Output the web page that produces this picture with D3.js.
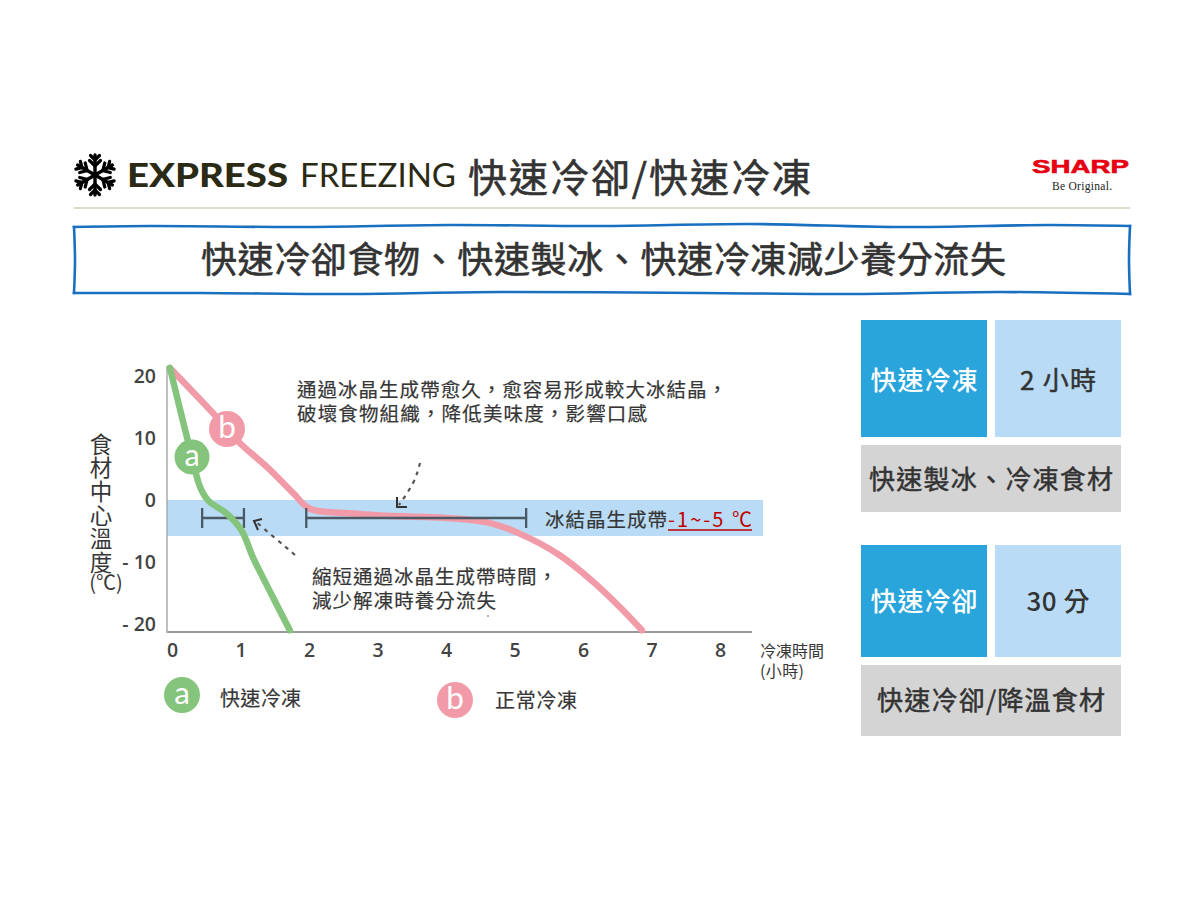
<!DOCTYPE html>
<html><head><meta charset="utf-8">
<script src="https://cdn.jsdelivr.net/npm/d3@7/dist/d3.min.js"></script>
<style>html,body{margin:0;padding:0;background:#fff}svg{display:block}text{font-family:"Noto Sans CJK TC","Noto Sans",sans-serif}</style>
</head><body><svg id="c" width="1200" height="900"></svg>
<script>
const xTicks=[0,1,2,3,4,5,6,7,8];
const yTicks=[20,10,0,-10,-20];
const fastTime=[-0.03,0.12,0.29,0.41,0.53,0.80,1.02,1.18,1.47,1.72];
const fastTemp=[21.3,14.5,7,2.1,-0.1,-2.2,-5.0,-9.2,-15.6,-21];
const normalTime=[-0.03,0.60,0.99,1.39,1.77,2.01,2.55,3.04,4.01,4.60,5.05,5.66,6.15,6.54,6.86];
const normalTemp=[21.3,14,9.2,5.3,1.1,-1.4,-2.1,-2.5,-2.9,-3.6,-5.3,-8.9,-13.2,-17.3,-21];
const freezeBand=[0,-5.8];
const fastRange=[0.44,1.05];
const normalRange=[1.96,5.17];

const svg=d3.select("#c");
const x=d3.scaleLinear().domain([0,8]).range([172,720]);
const y=d3.scaleLinear().domain([-20,20]).range([624,376]);
const dark="#363636";
function T(s,px,py,size,o={}){
  const t=svg.append("text").attr("x",px).attr("y",py).attr("font-size",size).attr("fill",o.fill||dark).text(s);
  if(o.weight)t.attr("font-weight",o.weight);
  if(o.anchor)t.attr("text-anchor",o.anchor);
  if(o.family)t.style("font-family",o.family);
  if(o.len)t.attr("textLength",o.len).attr("lengthAdjust",o.adj||"spacing");
  if(o.thick)t.attr("stroke",o.fill||dark).attr("stroke-width",o.thick);
  return t;
}
// header
const flake=svg.append("g").attr("transform","translate(95,175)");
d3.range(6).forEach(i=>{
  const a=flake.append("g").attr("transform",`rotate(${i*60})`).attr("stroke","#000").attr("fill","none").attr("stroke-linecap","round");
  a.append("line").attr("y1",0).attr("y2",-20).attr("stroke-width",3.4);
  [[-9,5.5],[-15,4.5]].forEach(([b,l])=>{
    a.append("path").attr("d",`M${-l},${b-l} L0,${b} L${l},${b-l}`).attr("stroke-width",3.2);
  });
});
T("EXPRESS",127,187,33,{weight:900,family:"Lato",fill:"#2b2a14",len:161,adj:"spacingAndGlyphs"});
T("FREEZING",300,187,33,{family:"Lato",fill:"#2b2a14",len:156,adj:"spacingAndGlyphs"});
T("快速冷卻/快速冷凍",468,192,39,{fill:"#333",len:343,thick:0.6});
T("SHARP",1032,173,19,{weight:700,family:"Liberation Sans",fill:"#e60012",len:97,adj:"spacingAndGlyphs",thick:0.6});
T("Be Original.",1052,190,11.5,{family:"Liberation Serif",fill:"#222",len:60});
svg.append("line").attr("x1",74).attr("x2",1130).attr("y1",208).attr("y2",208).attr("stroke","#dddbcc").attr("stroke-width",2);

// banner frame
const frameTop=[[74,227],[150,226],[300,227],[450,225],[600,226],[750,224],[900,227],[1050,225],[1130,226]];
const frameRight=[[1130,226],[1129,260],[1130,294]];
const frameBottom=[[1130,294],[1000,292],[850,294],[700,293],[500,292],[350,294],[200,293],[74,293]];
const frameLeft=[[74,293],[75,260],[74,227]];
const frameLine=d3.line().curve(d3.curveCatmullRom);
[frameTop,frameRight,frameBottom,frameLeft].forEach(side=>{
  svg.append("path").attr("d",frameLine(side)).attr("fill","none").attr("stroke","#1a70c0").attr("stroke-width",2.6).attr("stroke-linecap","square");
});
T("快速冷卻食物、快速製冰、快速冷凍減少養分流失",201,273,36,{fill:"#333",len:805,thick:0.6});

// band
svg.append("rect").attr("x",167).attr("width",596).attr("y",y(freezeBand[0])).attr("height",y(freezeBand[1])-y(freezeBand[0])).attr("fill","#b9dbf5");

// axes
const ax=svg.append("g").attr("transform","translate(0,632)").call(d3.axisBottom(x).tickValues(xTicks).tickSize(0).tickPadding(11));
const ay=svg.append("g").attr("transform","translate(156,0)").call(d3.axisLeft(y).tickValues(yTicks).tickSize(0).tickPadding(0).tickFormat(d=>d<0?"- "+(-d):d));
[ax,ay].forEach(g=>{g.select(".domain").remove();g.selectAll("text").attr("font-size",19.5).attr("fill","#444").style("font-family","Open Sans").attr("font-weight",600);});
svg.append("line").attr("x1",167).attr("x2",752).attr("y1",632).attr("y2",632).attr("stroke","#9a9a9a").attr("stroke-width",2);
svg.append("line").attr("x1",167).attr("x2",167).attr("y1",366).attr("y2",633).attr("stroke","#aaa").attr("stroke-width",1.5);

// curves
const line=d3.line().x(d=>x(d[0])).y(d=>y(d[1])).curve(d3.curveCatmullRom.alpha(0.5));
const pink="#f29ba8",green="#85c47c";
svg.append("path").attr("d",line(d3.zip(normalTime,normalTemp))).attr("fill","none").attr("stroke",pink).attr("stroke-width",6.5).attr("stroke-linecap","round");
// range bars
[normalRange,fastRange].forEach(r=>{
  const py=y(-2.9);
  const g=svg.append("g").attr("stroke","#4a5964").attr("stroke-width",2.3).attr("fill","none");
  g.append("line").attr("x1",x(r[0])).attr("x2",x(r[1])).attr("y1",py).attr("y2",py);
  r.forEach(v=>g.append("line").attr("x1",x(v)).attr("x2",x(v)).attr("y1",py-10).attr("y2",py+10));
});
svg.append("path").attr("d",line(d3.zip(fastTime,fastTemp))).attr("fill","none").attr("stroke",green).attr("stroke-width",6.5).attr("stroke-linecap","round");

// badges
function badge(cx,cy,r,c,l){
  svg.append("circle").attr("cx",cx).attr("cy",cy).attr("r",r).attr("fill",c);
  T(l,cx,cy+r*0.5,r*1.75,{fill:"#fff",anchor:"middle",family:"Lato"});
}
badge(192,457,17.5,green,"a");
badge(227,429,18,pink,"b");
badge(182,695,18,green,"a");
badge(455,700,18,pink,"b");

// axis titles
svg.append("text").attr("x",101).attr("y",433).attr("font-size",22.5).attr("fill",dark)
  .style("writing-mode","vertical-rl").style("text-orientation","upright").style("letter-spacing","1.1px").text("食材中心溫度");
T("(℃)",106,590,20,{anchor:"middle"});
T("冷凍時間",760,657,16,{len:64});
T("(小時)",760,677,16,{len:44});

// annotations
T("通過冰晶生成帶愈久，愈容易形成較大冰結晶，",297,397,19.5,{len:430,thick:0.2});
T("破壞食物組織，降低美味度，影響口感",297,421,19.5,{len:350,thick:0.2});
T("縮短通過冰晶生成帶時間，",312,584,19.5,{len:245,thick:0.2});
T("減少解凍時養分流失",312,608,19.5,{len:184,thick:0.2});
T("冰結晶生成帶",545,527,19.5,{len:122,thick:0.2});
T("-1~-5 ℃",668,527,20,{fill:"#c00000",len:84});
svg.append("line").attr("x1",668).attr("x2",752).attr("y1",530).attr("y2",530).attr("stroke","#c00000").attr("stroke-width",1.6);
T("快速冷凍",220,706,20,{len:81,thick:0.2});
T("正常冷凍",495,708,20,{len:82,thick:0.2});

// dashed arrows
[[[420,463],[415,482],[399,505]],[[295,555],[275,538],[255,521]]].forEach(p=>{
  svg.append("path").attr("d",d3.line().curve(d3.curveBasis)(p)).attr("fill","none").attr("stroke","#555").attr("stroke-width",2.2).attr("stroke-dasharray","4 5");
});
svg.append("path").attr("d","M397,497 L397,507 L407,507").attr("fill","none").attr("stroke","#333").attr("stroke-width",2);
svg.append("path").attr("d","M262,519 L254,521 L258,530").attr("fill","none").attr("stroke","#333").attr("stroke-width",2);
svg.append("circle").attr("cx",488).attr("cy",616).attr("r",0.8).attr("fill","#555");

// panels
const panelX=[861,995],fullW=260,cellW=126;
function P(px,py,w,h,c,s,o={}){
  svg.append("rect").attr("x",px).attr("y",py).attr("width",w).attr("height",h).attr("fill",c);
  T(s,px+w/2,py+h/2+(o.dy||9.5),o.size||26,{fill:o.fill||"#333",anchor:"middle",weight:o.weight,len:o.len,thick:o.thick});
}
P(panelX[0],320,cellW,117,"#2aa5dc","快速冷凍",{fill:"#fff",weight:500,len:107,dy:11});
P(panelX[1],320,cellW,117,"#b9dbf5","2 小時",{thick:0.5,len:76,dy:11});
P(panelX[0],445,fullW,67,"#d4d4d4","快速製冰、冷凍食材",{len:244,dy:10,thick:0.5});
P(panelX[0],545,cellW,112,"#2aa5dc","快速冷卻",{fill:"#fff",weight:500,len:107});
P(panelX[1],545,cellW,112,"#b9dbf5","30 分",{weight:500,len:63});
P(panelX[0],665,fullW,71,"#d4d4d4","快速冷卻/降溫食材",{len:228,dy:9,thick:0.5});
</script></body></html>
